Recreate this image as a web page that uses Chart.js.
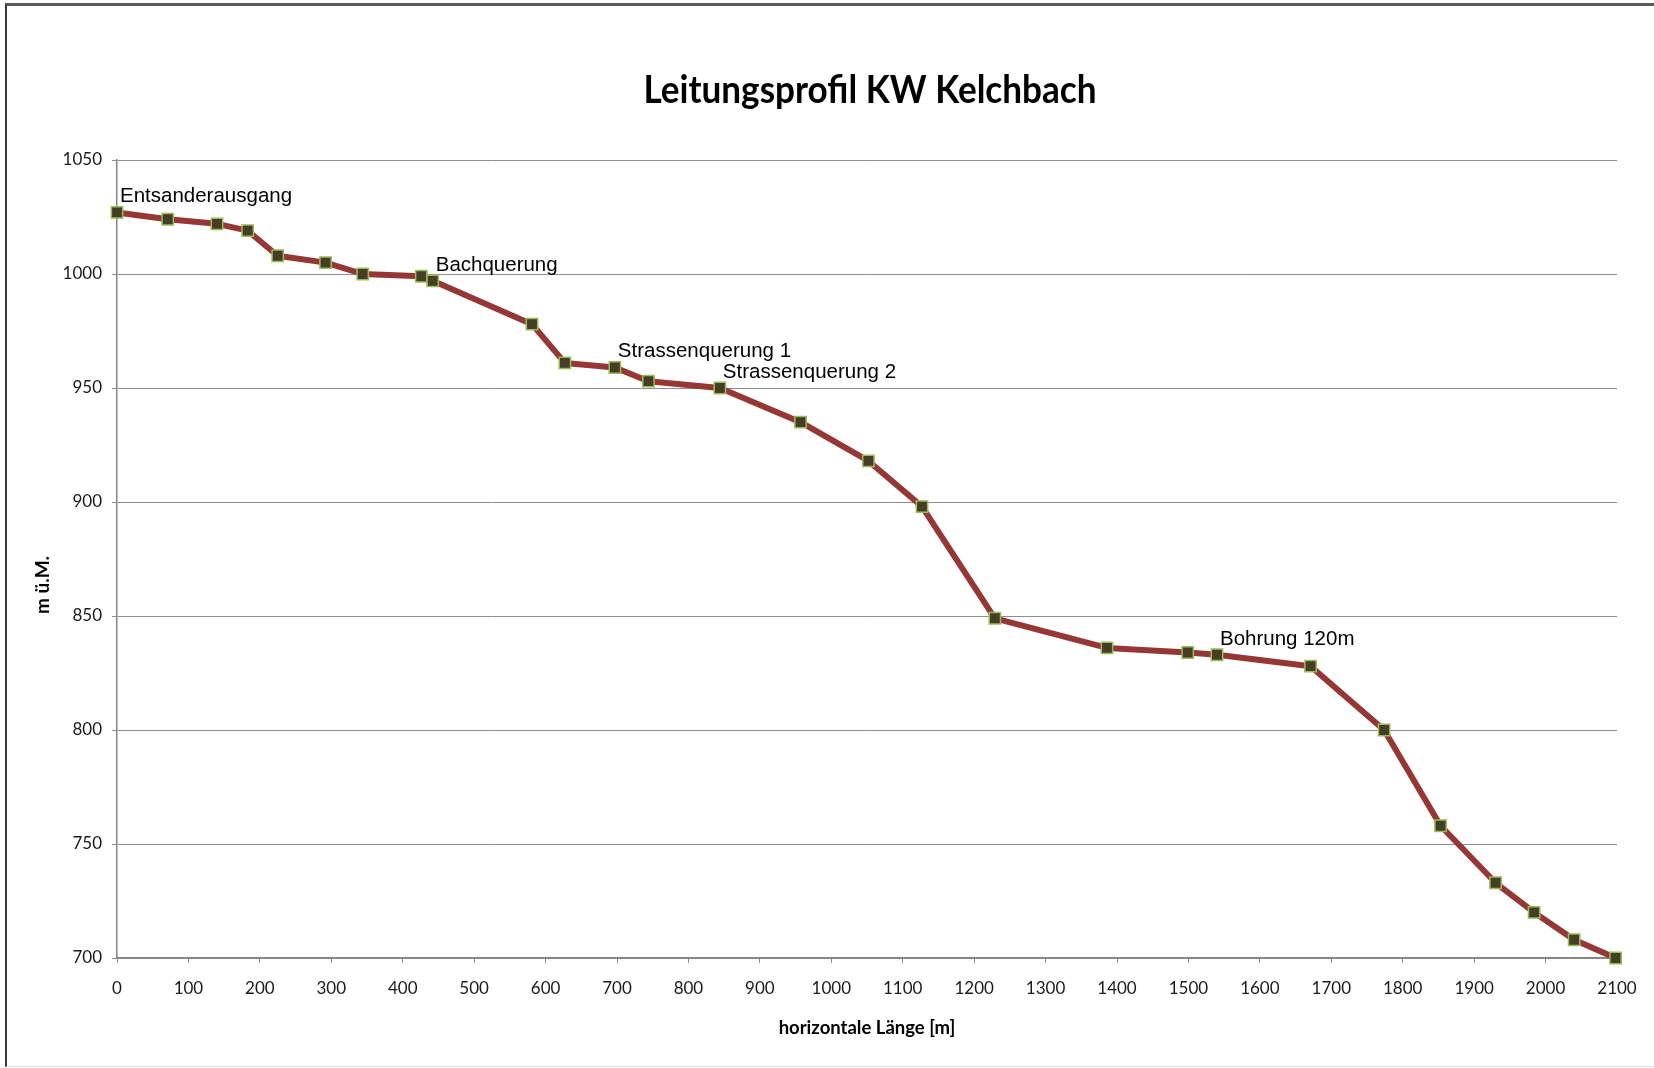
<!DOCTYPE html>
<html lang="de">
<head>
  <meta charset="UTF-8" />
  <title>Leitungsprofil KW Kelchbach</title>
  <script src="https://cdn.jsdelivr.net/npm/chart.js"></script>
  <style>
    html, body { margin: 0; padding: 0; background: #fff; }
    #rahmen {
      position: absolute; left: 5px; top: 3px; width: 1660px; height: 1064px;
      box-sizing: border-box;
      border-top: 3px solid #5c5c5c; border-left: 2px solid #3a3a3a; border-bottom: 1px solid #e2e2e2;
    }
    canvas { position: absolute; left: 0; top: 0; }
  </style>
</head>
<body>
  <div id="rahmen"></div>
  <canvas id="profil" width="1654" height="1068"></canvas>

  <script>
    // Messpunkte der Leitung (horizontale Länge in m, Höhe in m ü.M.)
    const laenge = [0, 71, 140, 183, 225, 292, 344, 426, 442, 581, 627, 697, 744, 844, 957, 1052, 1127, 1229, 1386, 1499, 1540, 1671, 1774, 1853, 1930, 1984, 2040, 2098];
    const hoehe = [1027, 1024, 1022, 1019, 1008, 1005, 1000, 999, 997, 978, 961, 959, 953, 950, 935, 918, 898, 849, 836, 834, 833, 828, 800, 758, 733, 720, 708, 700];

    // Beschriftete Punkte
    const beschriftungen = ["Entsanderausgang", "Bachquerung", "Strassenquerung 1", "Strassenquerung 2", "Bohrung 120m"];
    const beschriftungPunkte = [0, 8, 11, 13, 20];

    const titel = "Leitungsprofil KW Kelchbach";
    const titelX = "horizontale Länge [m]";
    const titelY = "m ü.M.";

    const punkte = laenge.map((x, i) => ({ x: x, y: hoehe[i] }));

    // Titel, y-Achsentitel und Beschriftungen zeichnen
    const textPlugin = {
      id: "texte",
      afterDatasetsDraw(chart) {
        const ctx = chart.ctx;
        const xs = chart.scales.x, ys = chart.scales.y;
        const a = chart.chartArea;
        ctx.save();
        ctx.fillStyle = "#000";
        ctx.font = "20.5px 'Liberation Sans', Arial, sans-serif";
        ctx.textAlign = "left";
        ctx.textBaseline = "alphabetic";
        beschriftungPunkte.forEach((idx, i) => {
          const px = xs.getPixelForValue(laenge[idx]);
          const py = ys.getPixelForValue(hoehe[idx]);
          ctx.fillText(beschriftungen[i], px + 3, py - 10);
        });

        // Diagrammtitel, etwas schmaler gesetzt
        ctx.save();
        ctx.translate((a.left + a.right) / 2 + 3, 90);
        ctx.scale(0.9, 1);
        ctx.font = "bold 39px Lato, sans-serif";
        ctx.textAlign = "center";
        ctx.textBaseline = "middle";
        ctx.fillText(titel, 0, 0);
        ctx.restore();

        // y-Achsentitel
        ctx.save();
        ctx.translate(43, 585);
        ctx.rotate(-Math.PI / 2);
        ctx.font = "bold 19px Lato, sans-serif";
        ctx.textAlign = "center";
        ctx.textBaseline = "middle";
        ctx.fillText(titelY, 0, 0);
        ctx.restore();
        ctx.restore();
      }
    };

    new Chart(document.getElementById("profil"), {
      type: "scatter",
      data: {
        datasets: [{
          data: punkte,
          showLine: true,
          borderColor: "#953735",
          borderWidth: 6,
          borderJoinStyle: "round",
          pointStyle: "rect",
          pointRadius: 8,
          pointHoverRadius: 8,
          pointBackgroundColor: "#433e25",
          pointBorderColor: "#9bbb59",
          pointBorderWidth: 1.5,
          clip: false
        }]
      },
      options: {
        responsive: false,
        animation: false,
        layout: { padding: { left: 0, top: 160, right: 37, bottom: 0 } },
        plugins: {
          legend: { display: false },
          tooltip: { enabled: false }
        },
        scales: {
          x: {
            type: "linear",
            min: 0,
            max: 2100,
            afterFit: s => { s.height = 110; },
            ticks: {
              stepSize: 100, padding: 15, color: "#1a1a1a",
              font: { family: "Lato", size: 17 },
              callback: v => String(v)
            },
            grid: { drawOnChartArea: false, drawTicks: true, tickLength: 5, color: "#8a8a8a" },
            border: { color: "#868686", width: 2 },
            title: {
              display: true, text: titelX, color: "#000",
              font: { family: "Lato", size: 18.5, weight: "bold" },
              padding: { top: 0, bottom: 29 }
            }
          },
          y: {
            min: 700,
            max: 1050,
            afterFit: s => { s.width = 117; },
            ticks: {
              stepSize: 50, padding: 10, color: "#1a1a1a",
              font: { family: "Lato", size: 17 },
              callback: v => String(v)
            },
            grid: { color: "#8e8e8e", lineWidth: 1, tickLength: 5 },
            border: { color: "#868686", width: 1.5 }
          }
        }
      },
      plugins: [textPlugin]
    });
  </script>
</body>
</html>
